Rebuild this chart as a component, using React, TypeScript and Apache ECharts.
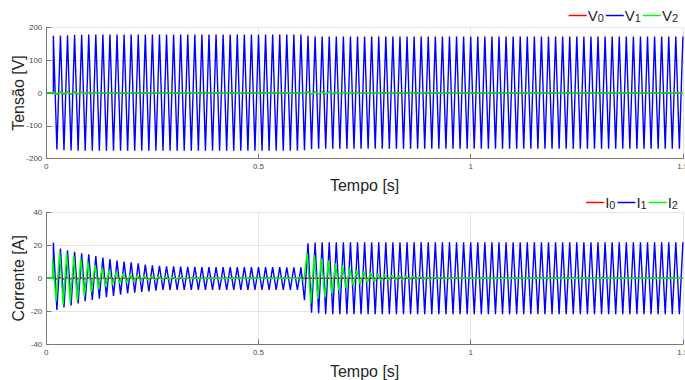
import React, { useEffect, useRef } from "react";
import * as echarts from "echarts";

// ---- sampling of the recorded waveforms ----
const FREQ_HZ = 60; // fundamental frequency
const CYCLES = 90; // cycles in 1.5 s
const X_MIN = 0;
const X_MAX = 1.5;
const X_STEP = 0.5;
const V_MIN = -200;
const V_MAX = 200;
const V_STEP = 100;
const I_MIN = -40;
const I_MAX = 40;
const I_STEP = 20;

// positive peak of each cycle (k = 1..90) and negative peak of each half cycle (k + 1/2)
const V1_POS = [
  174, 175, 176, 177, 177, 178, 178, 178, 178, 178,
  178, 178, 178, 178, 178, 178, 178, 178, 178, 178,
  178, 178, 178, 178, 178, 178, 178, 178, 178, 178,
  178, 178, 178, 178, 178, 178, 174, 172, 172, 172,
  172, 172, 172, 172, 172, 172, 172, 172, 172, 172,
  172, 172, 172, 172, 172, 172, 172, 172, 172, 172,
  172, 172, 172, 172, 172, 172, 172, 172, 172, 172,
  172, 172, 172, 172, 172, 172, 172, 172, 172, 172,
  172, 172, 172, 172, 172, 172, 172, 172, 172, 172,
];
const V1_NEG = [
  -172, -174, -175, -176, -176, -176, -176, -176, -176, -176,
  -176, -176, -176, -176, -176, -176, -176, -176, -176, -176,
  -176, -176, -176, -176, -176, -176, -176, -176, -176, -176,
  -176, -176, -176, -176, -176, -174, -171, -170, -170, -170,
  -170, -170, -170, -170, -170, -170, -170, -170, -170, -170,
  -170, -170, -170, -170, -170, -170, -170, -170, -170, -170,
  -170, -170, -170, -170, -170, -170, -170, -170, -170, -170,
  -170, -170, -170, -170, -170, -170, -170, -170, -170, -170,
  -170, -170, -170, -170, -170, -170, -170, -170, -170,
];
const V0_POS = [
  2.0, 2.5, 2.5, 2.0, 2.0, 1.5, 1.5, 1.2, 1.0, 0.8,
  0.6, 0.4, 0, 0, 0, 0, 0, 0, 0, 0,
  0, 0, 0, 0, 0, 0, 0, 0, 0, 0,
  0, 0, 0, 0, 0, 0, 3.0, 3.0, 2.5, 2.5,
  2.0, 2.0, 1.5, 1.5, 1.2, 1.0, 0.8, 0.6, 0.5, 0.4,
  0.3, 0.2,
];
const V0_NEG = [
  -2.0, -2.0, -2.5, -2.0, -1.5, -1.5, -1.2, -1.0, -0.8, -0.6,
  -0.5, -0.3, 0, 0, 0, 0, 0, 0, 0, 0,
  0, 0, 0, 0, 0, 0, 0, 0, 0, 0,
  0, 0, 0, 0, 0, -1.0, -3.0, -2.5, -2.5, -2.0,
  -2.0, -1.5, -1.5, -1.2, -1.0, -0.8, -0.6, -0.5, -0.4, -0.3,
  -0.2,
];
const V2_POS = [
  4.0, 5.0, 5.0, 4.0, 3.0, 2.0, 1.5, 1.0, 0.8, 0.5,
  0.3, 0, 0, 0, 0, 0, 0, 0, 0, 0,
  0, 0, 0, 0, 0, 0, 0, 0, 0, 0,
  0, 0, 0, 0, 0, 0, 4.0, 3.5, 3.0, 2.5,
  2.0, 1.7, 1.4, 1.2, 1.0, 0.8, 0.6, 0.5, 0.4, 0.3,
  0.2,
];
const V2_NEG = [
  -5.0, -5.0, -4.5, -3.5, -2.5, -2.0, -1.2, -1.0, -0.6, -0.4,
  -0.2, 0, 0, 0, 0, 0, 0, 0, 0, 0,
  0, 0, 0, 0, 0, 0, 0, 0, 0, 0,
  0, 0, 0, 0, 0, -1.5, -4.0, -3.0, -3.0, -2.2,
  -1.8, -1.5, -1.3, -1.0, -0.8, -0.7, -0.5, -0.4, -0.3, -0.2,
];

const I1_POS = [
  21.6, 18.0, 17.0, 16.0, 15.2, 14.5, 13.5, 12.5, 11.7, 10.7,
  10.1, 9.7, 9.1, 8.3, 7.9, 7.5, 7.3, 7.2, 7.1, 7.0,
  6.9, 6.8, 6.8, 6.8, 6.8, 6.8, 6.8, 6.8, 6.8, 6.8,
  6.8, 6.8, 6.8, 6.7, 6.7, 6.6, 21.2, 21.6, 21.8, 21.8,
  21.8, 21.8, 21.8, 21.8, 21.8, 21.8, 21.8, 21.8, 21.8, 21.8,
  21.8, 21.8, 21.8, 21.8, 21.8, 21.8, 21.8, 21.8, 21.8, 21.8,
  21.8, 21.8, 21.8, 21.8, 21.8, 21.8, 21.8, 21.8, 21.8, 21.8,
  21.8, 21.8, 21.8, 21.8, 21.8, 21.8, 21.8, 21.8, 21.8, 21.8,
  21.8, 21.8, 21.8, 21.8, 21.8, 21.8, 21.8, 21.8, 21.8, 21.8,
];
const I1_NEG = [
  -19.2, -17.6, -16.4, -15.2, -13.9, -13.1, -12.3, -11.5, -10.7, -9.9,
  -9.1, -8.7, -8.3, -7.9, -7.5, -7.1, -7.1, -7.1, -7.1, -7.1,
  -7.1, -7.1, -7.1, -7.1, -7.1, -7.1, -7.1, -7.1, -7.1, -7.1,
  -7.1, -7.1, -7.1, -7.1, -7.1, -13.3, -20.8, -21.2, -21.7, -21.7,
  -21.7, -21.7, -21.7, -21.7, -21.7, -21.7, -21.7, -21.7, -21.7, -21.7,
  -21.7, -21.7, -21.7, -21.7, -21.7, -21.7, -21.7, -21.7, -21.7, -21.7,
  -21.7, -21.7, -21.7, -21.7, -21.7, -21.7, -21.7, -21.7, -21.7, -21.7,
  -21.7, -21.7, -21.7, -21.7, -21.7, -21.7, -21.7, -21.7, -21.7, -21.7,
  -21.7, -21.7, -21.7, -21.7, -21.7, -21.7, -21.7, -21.7, -21.7,
];
const I2_PHASE = -0.12; // cycles, I2 leads I1 slightly
const I2_POS = [
  12.0, 16.2, 15.2, 13.5, 12.1, 10.1, 8.1, 6.1, 4.8, 3.8,
  3.0, 2.4, 1.8, 1.4, 1.2, 1.0, 0.8, 0.6, 0.5, 0.4,
  0.3, 0.3, 0.2, 0.2, 0.1, 0.1, 0, 0, 0, 0,
  0, 0, 0, 0, 0, 0.3, 15.2, 14.1, 12.1, 10.9,
  9.1, 7.8, 6.2, 5.0, 4.2, 3.5, 2.8, 2.3, 1.9, 1.6,
  1.4, 1.2, 1.0, 0.8, 0.7, 0.6, 0.5, 0.4, 0.3, 0.3,
  0.2, 0.2, 0.1, 0.1,
];
const I2_NEG = [
  -14.0, -16.0, -15.0, -13.5, -11.0, -8.5, -6.5, -5.0, -4.0, -3.0,
  -2.5, -2.0, -1.5, -1.2, -1.0, -0.8, -0.6, -0.5, -0.4, -0.3,
  -0.3, -0.2, -0.2, -0.1, -0.1, 0, 0, 0, 0, 0,
  0, 0, 0, 0, 0, -1.5, -15.2, -12.5, -11.5, -9.0,
  -7.5, -5.8, -4.5, -3.6, -2.8, -2.2, -1.8, -1.5, -1.2, -1.0,
  -0.8, -0.7, -0.6, -0.5, -0.4, -0.3, -0.3, -0.2, -0.2, -0.1,
  -0.1,
];
const I0_POS = [
  0.6, 0.5, 0.5, 0.4, 0.4, 0.4, 0.3, 0.3, 0.3, 0.3,
  0.3, 0.3, 0.3, 0.3, 0.3, 0.3, 0.2, 0.2, 0.2, 0.2,
];
const I0_NEG = [
  -0.5, -0.5, -0.4, -0.4, -0.4, -0.3, -0.3, -0.3, -0.3, -0.3,
  -0.3, -0.3, -0.3, -0.3, -0.3, -0.2, -0.2, -0.2, -0.2,
];

const V_NAMES = ["V0", "V1", "V2"];
const I_NAMES = ["I0", "I1", "I2"];
const COLORS = ["#ff0000", "#0000ff", "#00ff00"];

// builds [t, value] pairs from the per-cycle peaks (zero before the first cycle)
function buildWave(pos: number[], neg: number[], phase = 0): [number, number][] {
  const t0 = (1 + phase) / FREQ_HZ;
  const pts: [number, number][] = [
    [0, 0],
    [t0, 0],
  ];
  for (let k = 1; k <= CYCLES; k++) {
    pts.push([(k + phase) / FREQ_HZ, pos[k - 1] ?? 0]);
    if (k < CYCLES) pts.push([(k + 0.5 + phase) / FREQ_HZ, neg[k - 1] ?? 0]);
  }
  return pts;
}

const FONT = "'Liberation Sans', Arial, Helvetica, sans-serif";

export default function App() {
  const ref = useRef<HTMLDivElement>(null);

  useEffect(() => {
    if (!ref.current) return;
    const chart = echarts.init(ref.current, undefined, { renderer: "svg" });

    const axisLine = { color: "#777777", width: 1 };
    const grids = [
      { left: 46.3, right: 2.1, top: 27.3, height: 131.4, containLabel: false, outerBoundsMode: "none" },
      { left: 46.3, right: 2.1, top: 212.3, height: 132, containLabel: false, outerBoundsMode: "none" },
    ];

    const xAxes = [0, 1].map((i) => ({
      type: "value",
      gridIndex: i,
      min: X_MIN,
      max: X_MAX,
      interval: X_STEP,
      name: "Tempo [s]",
      nameLocation: "middle",
      nameGap: 19,
      nameMoveOverlap: false,
      nameTextStyle: { fontSize: 16, color: "#262626", fontFamily: FONT },
      axisLine: { show: true, onZero: false, lineStyle: axisLine },
      axisTick: { show: true, inside: true, length: 5, lineStyle: axisLine },
      axisLabel: {
        fontSize: 8,
        color: "#4a4a4a",
        margin: 4,
        fontFamily: FONT,
        hideOverlap: false,
        formatter: (v: number) => String(v),
      },
      splitLine: { show: true, lineStyle: { color: "#e4e4e4", width: 1 } },
    }));

    const yAxes = [
      { name: "Tensão [V]", min: V_MIN, max: V_MAX, interval: V_STEP },
      { name: "Corrente [A]", min: I_MIN, max: I_MAX, interval: I_STEP },
    ].map((a, i) => ({
      type: "value",
      gridIndex: i,
      min: a.min,
      max: a.max,
      interval: a.interval,
      name: a.name,
      nameLocation: "middle",
      nameGap: 20,
      nameMoveOverlap: false,
      nameTextStyle: { fontSize: 16, color: "#262626", fontFamily: FONT },
      axisLine: { show: true, onZero: false, lineStyle: axisLine },
      axisTick: { show: true, inside: true, length: 5, lineStyle: axisLine },
      axisLabel: { fontSize: 8, color: "#4a4a4a", margin: 4, fontFamily: FONT },
      splitLine: { show: true, lineStyle: { color: "#e4e4e4", width: 1 } },
    }));

    const mkSeries = (name: string, idx: number, color: string, data: [number, number][]) => ({
      name,
      type: "line",
      xAxisIndex: idx,
      yAxisIndex: idx,
      data,
      showSymbol: false,
      symbol: "none",
      silent: true,
      color,
      lineStyle: { width: 1.4, color },
      itemStyle: { color },
    });

    const legendCommon = {
      right: 2,
      orient: "horizontal",
      icon: "rect",
      itemWidth: 18,
      itemHeight: 1.5,
      itemGap: 2,
      selectedMode: false,
      formatter: (name: string) => `{m|${name[0]}}{s|${name.slice(1)}}`,
      textStyle: {
        color: "#262626",
        fontFamily: FONT,
        padding: [0, 0, 0, -4],
        rich: {
          m: { fontSize: 15, lineHeight: 15, verticalAlign: "top", fontFamily: FONT, color: "#262626" },
          s: {
            fontSize: 11,
            lineHeight: 11,
            verticalAlign: "bottom",
            padding: [7, 0, 0, 0],
            fontFamily: FONT,
            color: "#262626",
          },
        },
      },
    };

    chart.setOption({
      animation: false,
      backgroundColor: "#ffffff",
      grid: grids,
      xAxis: xAxes,
      yAxis: yAxes,
      legend: [
        { ...legendCommon, data: V_NAMES, top: 0 },
        { ...legendCommon, data: I_NAMES, top: 187 },
      ],
      series: [
        mkSeries(V_NAMES[0], 0, COLORS[0], buildWave(V0_POS, V0_NEG)),
        mkSeries(V_NAMES[1], 0, COLORS[1], buildWave(V1_POS, V1_NEG)),
        mkSeries(V_NAMES[2], 0, COLORS[2], buildWave(V2_POS, V2_NEG)),
        mkSeries(I_NAMES[0], 1, COLORS[0], buildWave(I0_POS, I0_NEG)),
        mkSeries(I_NAMES[1], 1, COLORS[1], buildWave(I1_POS, I1_NEG)),
        mkSeries(I_NAMES[2], 1, COLORS[2], buildWave(I2_POS, I2_NEG, I2_PHASE)),
      ],
    });

    return () => chart.dispose();
  }, []);

  return (
    <div
      ref={ref}
      style={{ position: "absolute", left: 0, top: 0, width: 685, height: 380, background: "#fff" }}
    />
  );
}
